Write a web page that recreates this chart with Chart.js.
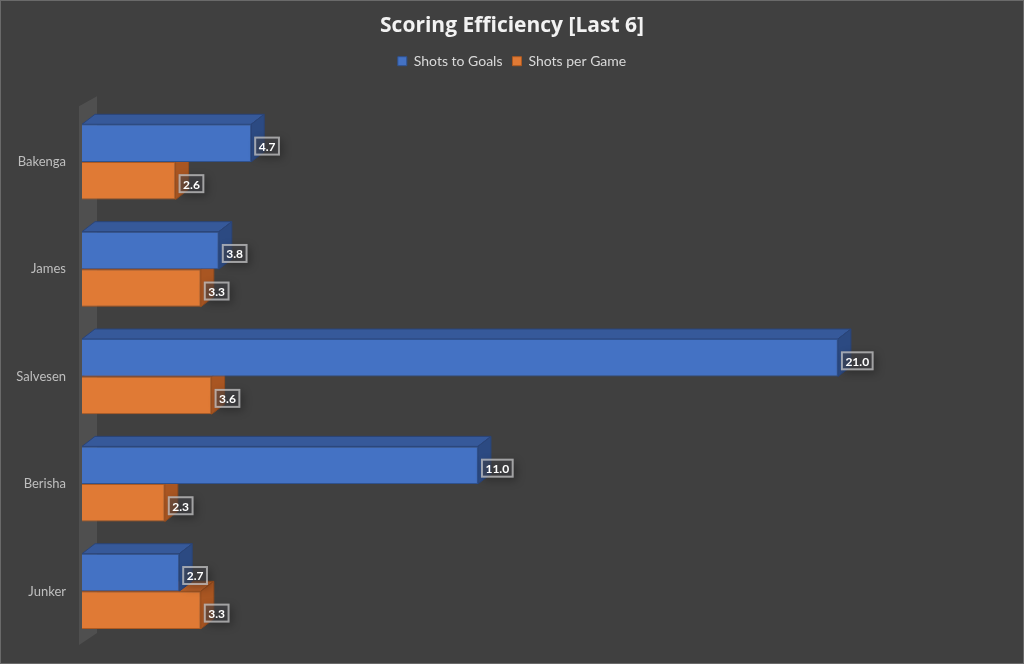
<!DOCTYPE html>
<html><head><meta charset="utf-8">
<script src="https://cdn.jsdelivr.net/npm/chart.js@4/dist/chart.umd.min.js"></script>
<style>html,body{margin:0;padding:0;background:#404040;}#wrap{width:1024px;height:664px;}</style>
</head><body><div id="wrap"><canvas id="c" width="1024" height="664"></canvas></div>
<script>
const categories = ['Bakenga', 'James', 'Salvesen', 'Berisha', 'Junker'];
const shotsToGoals = [4.7, 3.8, 21.0, 11.0, 2.7];
const shotsPerGame = [2.6, 3.3, 3.6, 2.3, 3.3];
const seriesNames = ['Shots to Goals', 'Shots per Game'];

const DX = 13, DY = 10;
const faceColors = [
  {top: '#36599a', side: '#2c4a82', edge: '#2a4478'},
  {top: '#b8602a', side: '#a95622', edge: '#944c1e'}
];

function poly(ctx, pts, fill, stroke) {
  ctx.beginPath();
  ctx.moveTo(pts[0][0], pts[0][1]);
  for (let i = 1; i < pts.length; i++) ctx.lineTo(pts[i][0], pts[i][1]);
  ctx.closePath();
  ctx.fillStyle = fill; ctx.fill();
  if (stroke) { ctx.strokeStyle = stroke; ctx.lineWidth = 1; ctx.stroke(); }
}

const depthPlugin = {
  id: 'depth3d',
  beforeInit(chart) {
    const fit = chart.legend.fit;
    chart.legend.fit = function () { fit.call(this); this.height += 30; };
  },
  beforeDraw(chart) {
    const ctx = chart.ctx;
    ctx.save();
    ctx.fillStyle = '#404040';
    ctx.fillRect(0, 0, chart.width, chart.height);
    ctx.strokeStyle = '#6a6a6a'; ctx.lineWidth = 1;
    ctx.strokeRect(0.5, 0.5, chart.width - 1, chart.height - 1);
    ctx.restore();
  },
  beforeDatasetsDraw(chart) {
    const ctx = chart.ctx;
    const a = chart.chartArea;
    const x0 = chart.scales.x.getPixelForValue(0);
    ctx.save();
    poly(ctx, [[x0 - 3, a.top - 2], [x0 - 3 + 18, a.top - 12], [x0 - 3 + 18, a.bottom - 12], [x0 - 3, a.bottom]], 'rgba(110,110,110,0.35)');
    for (let d = chart.data.datasets.length - 1; d >= 0; d--) {
      const meta = chart.getDatasetMeta(d);
      meta.data.forEach(bar => {
        const h = bar.height, top = bar.y - h / 2, bot = bar.y + h / 2;
        const L = bar.base, R = bar.x;
        poly(ctx, [[L, top], [L + DX, top - DY], [R + DX, top - DY], [R, top]], faceColors[d].top, faceColors[d].edge);
        poly(ctx, [[R, top], [R + DX, top - DY], [R + DX, bot - DY], [R, bot]], faceColors[d].side, faceColors[d].edge);
      });
    }
    ctx.restore();
  },
  afterDatasetsDraw(chart) {
    const ctx = chart.ctx;
    ctx.save();
    ctx.font = 'bold 12px Lato, "Open Sans", sans-serif';
    ctx.textBaseline = 'middle';
    chart.data.datasets.forEach((ds, d) => {
      const meta = chart.getDatasetMeta(d);
      meta.data.forEach((bar, i) => {
        const txt = ds.data[i].toFixed(1);
        const w = ctx.measureText(txt).width + 9, h = 19;
        const lx = bar.x + 3, cy = bar.y + 3;
        ctx.save();
        ctx.shadowColor = 'rgba(0,0,0,0.55)';
        ctx.shadowBlur = 8; ctx.shadowOffsetX = 3; ctx.shadowOffsetY = 3;
        ctx.fillStyle = 'rgba(70,70,75,0.5)';
        ctx.fillRect(lx, cy - h / 2, w, h);
        ctx.restore();
        ctx.strokeStyle = 'rgba(230,230,230,0.6)'; ctx.lineWidth = 2;
        ctx.strokeRect(lx + 1, cy - h / 2 + 1, w - 2, h - 2);
        ctx.fillStyle = '#ffffff';
        ctx.fillText(txt, lx + 4.5, cy + 1);
      });
    });
    ctx.restore();
  }
};

new Chart(document.getElementById('c'), {
  type: 'bar',
  data: {
    labels: categories,
    datasets: [
      {label: seriesNames[0], data: shotsToGoals, backgroundColor: '#4472c4', borderColor: '#2f528f', borderWidth: 1,
       categoryPercentage: 0.70, barPercentage: 1.0},
      {label: seriesNames[1], data: shotsPerGame, backgroundColor: '#e07a35', borderColor: '#ae5a21', borderWidth: 1,
       categoryPercentage: 0.70, barPercentage: 1.0}
    ]
  },
  options: {
    indexAxis: 'y',
    responsive: false,
    animation: false,
    layout: {padding: {left: 0, right: 0, top: 0, bottom: 19}},
    scales: {
      x: {display: false, min: 0, max: 26.17},
      y: {
        grid: {display: false, drawTicks: false},
        border: {display: false},
        ticks: {color: '#bfbfbf', font: {size: 13, family: 'Lato, "Open Sans", sans-serif'}, padding: 16},
        afterFit(scale) { scale.width = 82; scale.paddingTop = 0; scale.paddingBottom = 0; }
      }
    },
    plugins: {
      title: {display: true, text: 'Scoring Efficiency [Last 6]', color: '#f2f2f2',
        font: {size: 21, weight: 'bold', family: '"Open Sans", Lato, sans-serif'}, padding: {top: 13, bottom: 6}},
      legend: {display: true, labels: {color: '#d9d9d9', boxWidth: 9, boxHeight: 9, padding: 10,
        font: {size: 14, family: 'Lato, "Open Sans", sans-serif'}}},
      tooltip: {enabled: false}
    }
  },
  plugins: [depthPlugin]
});
</script></body></html>
